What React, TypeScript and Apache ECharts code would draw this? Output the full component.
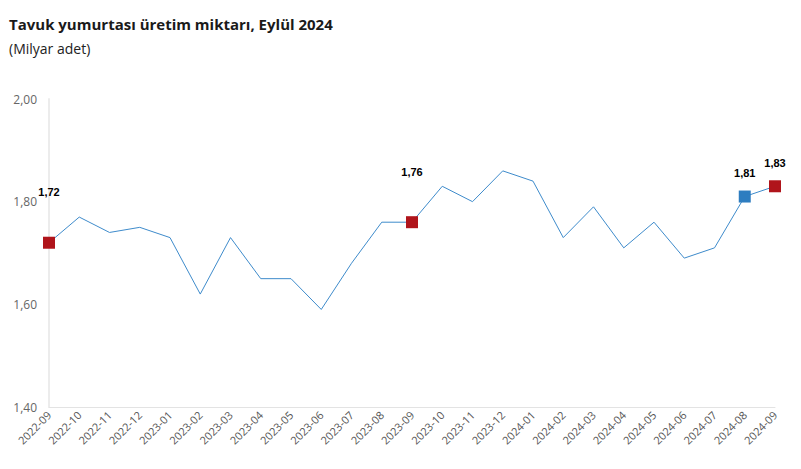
import React, { useEffect, useRef } from "react";
import * as echarts from "echarts";

const categories = [
  "2022-09", "2022-10", "2022-11", "2022-12", "2023-01", "2023-02", "2023-03", "2023-04", "2023-05",
  "2023-06", "2023-07", "2023-08", "2023-09", "2023-10", "2023-11", "2023-12", "2024-01", "2024-02",
  "2024-03", "2024-04", "2024-05", "2024-06", "2024-07", "2024-08", "2024-09",
];
const values = [
  1.72, 1.77, 1.74, 1.75, 1.73, 1.62, 1.73, 1.65, 1.65, 1.59, 1.68, 1.76, 1.76,
  1.83, 1.80, 1.86, 1.84, 1.73, 1.79, 1.71, 1.76, 1.69, 1.71, 1.81, 1.83,
];
const redPoints = ["2022-09", "2023-09", "2024-09"];
const bluePoints = ["2024-08"];
const labelLift: Record<string, number> = { "2022-09": 39, "2023-09": 39, "2024-08": 12, "2024-09": 12 };
const yTicks = [1.4, 1.6, 1.8, 2.0];

const fmt = (v: number) => v.toFixed(2).replace(".", ",");

export default function App() {
  const ref = useRef<HTMLDivElement>(null);
  useEffect(() => {
    const chart = echarts.init(ref.current!, null, { renderer: "svg" });
    const font = "'Open Sans', 'Noto Sans', sans-serif";
    const mk = (list: string[], color: string) =>
      list.map((c) => {
        const i = categories.indexOf(c);
        return {
          value: [c, values[i]],
          label: {
            show: true,
            position: "top",
            distance: labelLift[c],
            formatter: () => fmt(values[i]),
            color: "#000",
            fontWeight: "bold",
            fontSize: 11,
            fontFamily: "Arial, 'Liberation Sans', sans-serif",
          },
          itemStyle: { color, opacity: 1 },
        };
      });
    chart.setOption({
      animation: false,
      backgroundColor: "#fff",
      title: [
        {
          text: "Tavuk yumurtası üretim miktarı, Eylül 2024",
          left: 4,
          top: 11,
          textStyle: { fontSize: 15, fontWeight: "bold", color: "#1a1a1a", fontFamily: font },
        },
        {
          text: "(Milyar adet)",
          left: 4,
          top: 36,
          textStyle: { fontSize: 14, fontWeight: "normal", color: "#222", fontFamily: font },
        },
      ],
      grid: { left: 49, right: 26, top: 99, bottom: 62, containLabel: false },
      xAxis: {
        type: "category",
        data: categories,
        boundaryGap: false,
        axisLine: { show: true, lineStyle: { color: "#e3e3e3", width: 1 } },
        axisTick: { show: false },
        axisLabel: {
          rotate: 45,
          interval: 0,
          fontSize: 11,
          color: "#555",
          margin: 6,
          fontFamily: font,
        },
      },
      yAxis: {
        type: "value",
        min: 1.4,
        max: 2.0,
        interval: 0.2,
        splitLine: { show: false },
        axisLine: { show: true, lineStyle: { color: "#ececec", width: 2 } },
        axisTick: { show: false },
        axisLabel: {
          formatter: (v: number) => (yTicks.some((t) => Math.abs(t - v) < 1e-6) ? fmt(v) : ""),
          fontSize: 12,
          color: "#666",
          margin: 12,
          fontFamily: font,
        },
      },
      series: [
        {
          type: "line",
          data: values,
          symbol: "none",
          lineStyle: { color: "#3E8BCB", width: 1 },
          z: 2,
        },
        {
          type: "scatter",
          data: mk(redPoints, "#B0141B"),
          symbol: "rect",
          symbolSize: 12,
          itemStyle: { opacity: 1 },
          z: 3,
        },
        {
          type: "scatter",
          data: mk(bluePoints, "#2E7DC0"),
          symbol: "rect",
          symbolSize: 12,
          itemStyle: { opacity: 1 },
          z: 3,
        },
      ],
    });
    return () => chart.dispose();
  }, []);
  return <div ref={ref} style={{ width: 801, height: 469, position: "absolute", left: 0, top: 0 }} />;
}
